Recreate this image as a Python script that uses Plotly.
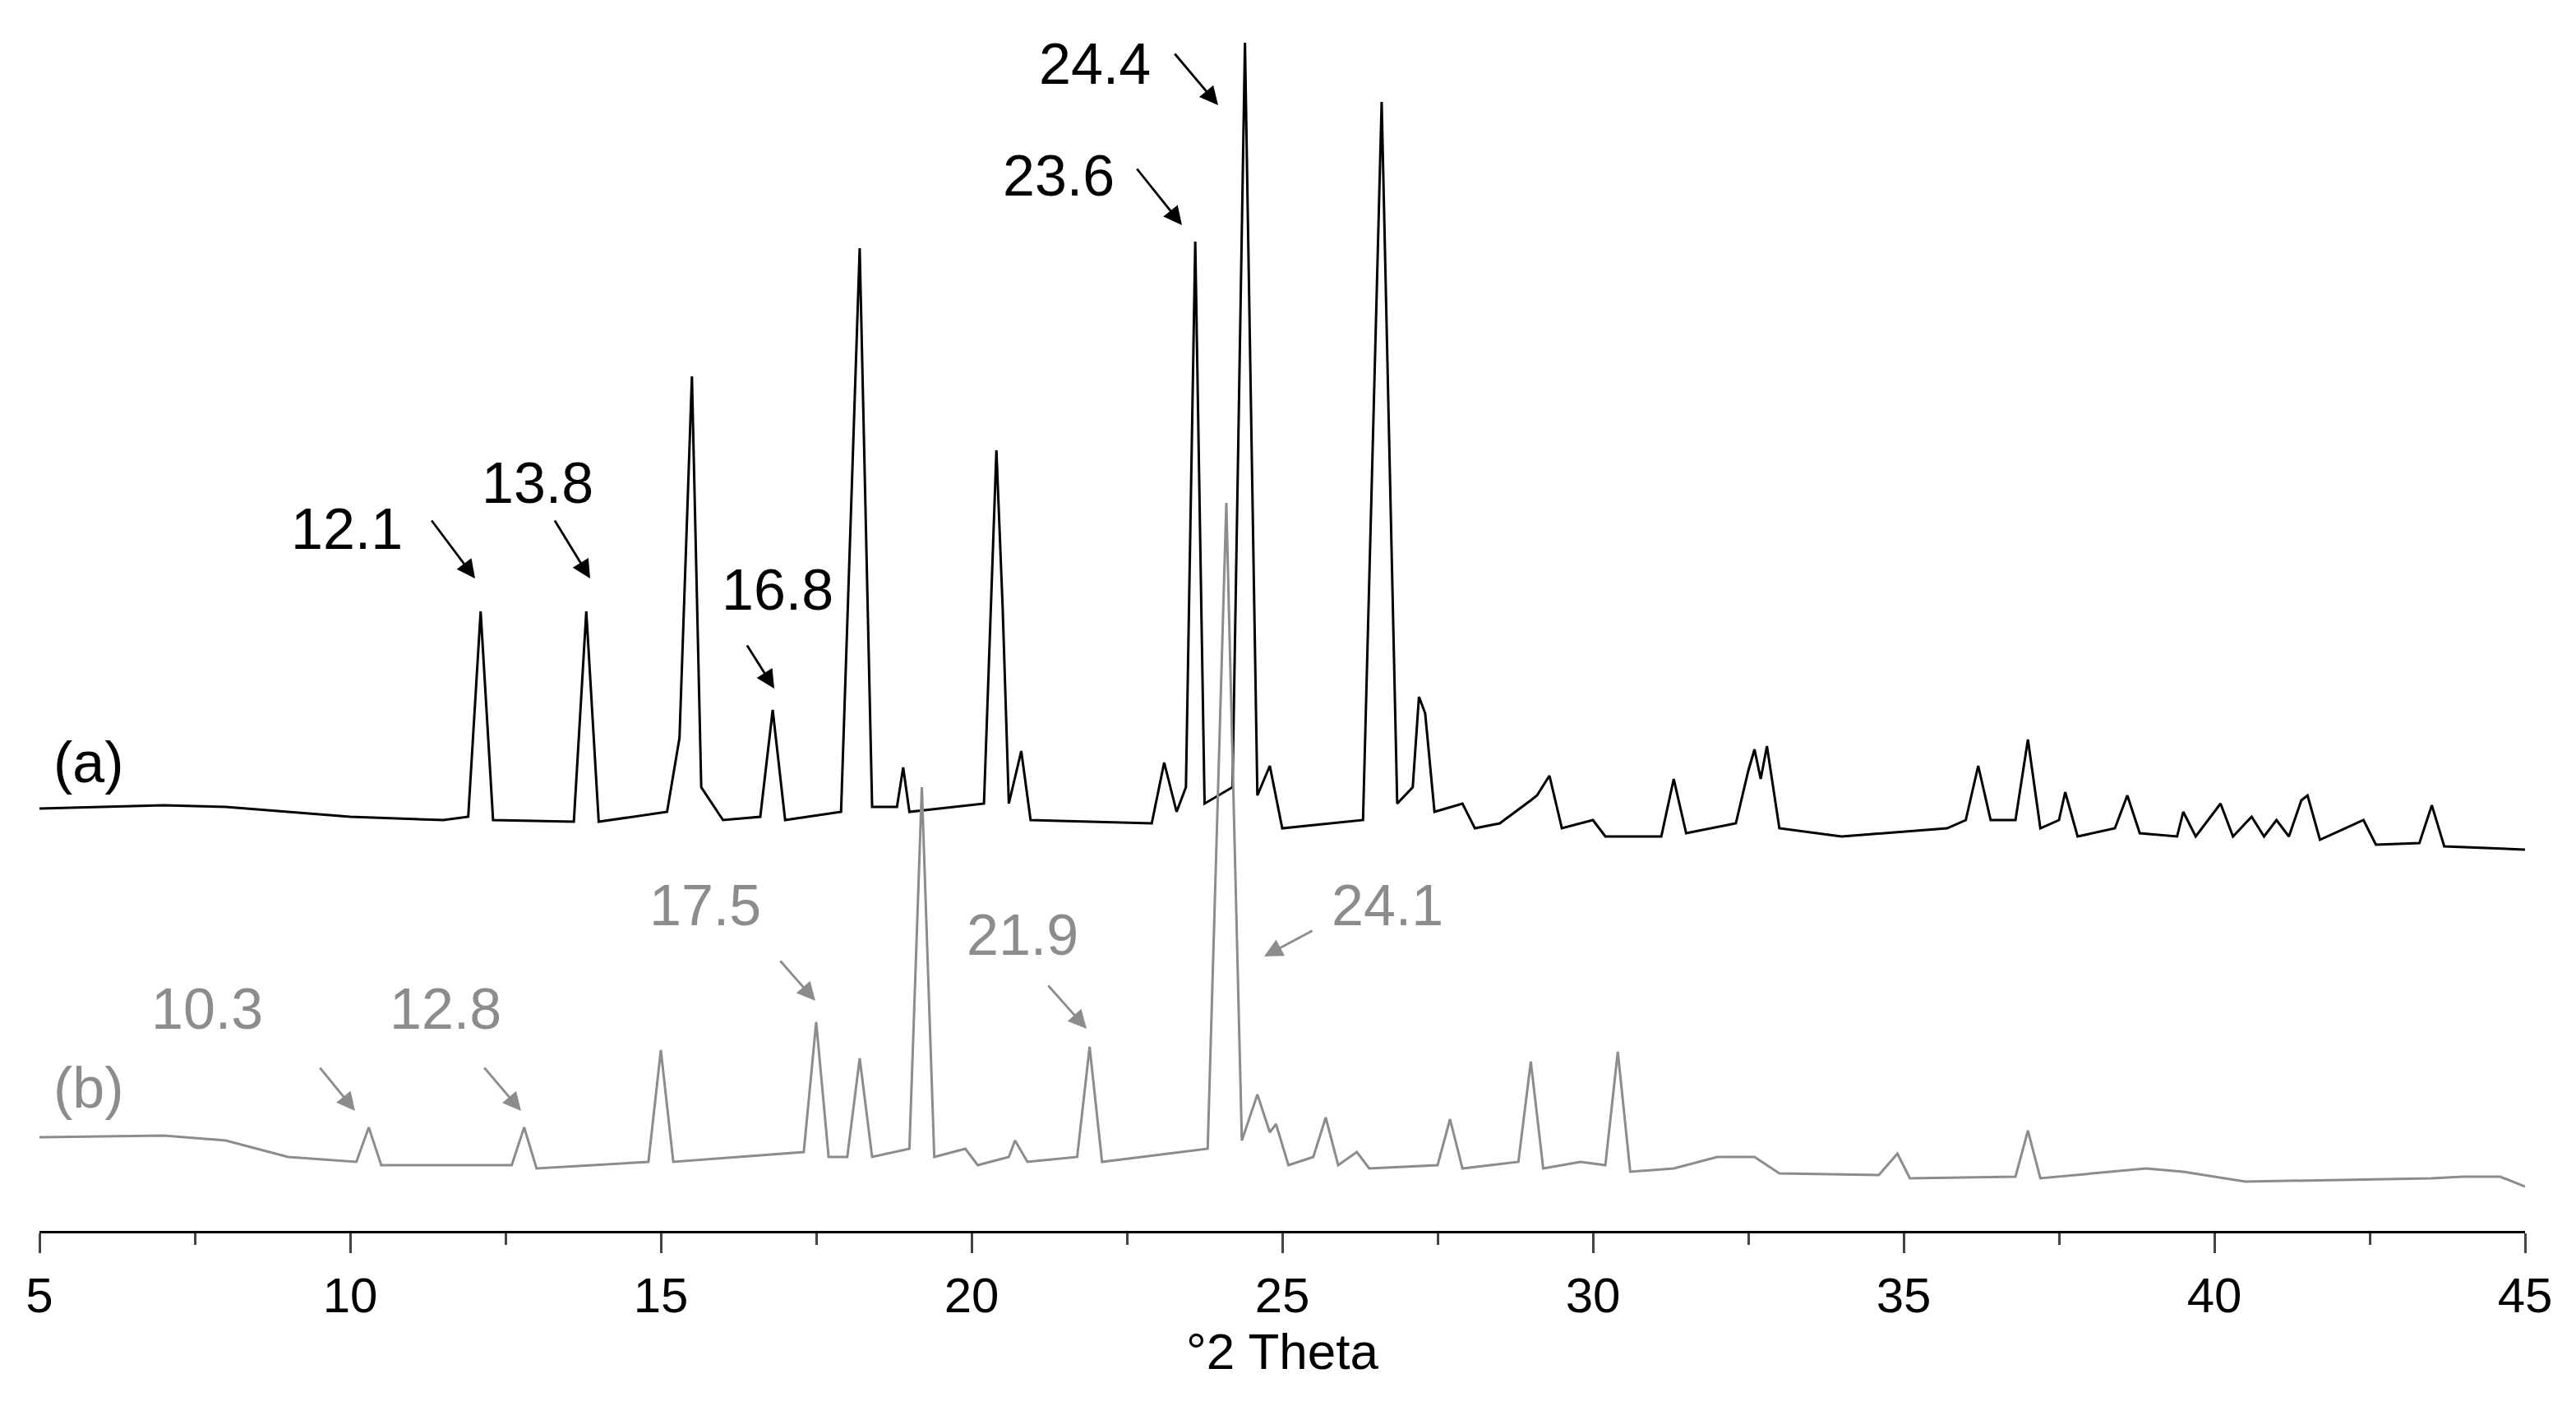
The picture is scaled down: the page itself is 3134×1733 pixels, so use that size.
import plotly.graph_objects as go

# Pattern (a): vertices (2θ, intensity in arbitrary units)
a_x = [5,7,8,10,11.5,11.9,12.1,12.3,13.6,13.8,14.0,15.1,15.3,15.5,15.65,16.0,16.6,16.8,17.0,17.9,18.2,18.4,18.8,18.9,19.0,20.2,20.4,20.5,20.6,20.8,20.95,22.9,23.1,23.3,23.45,23.6,23.75,24.2,24.4,24.6,24.8,25.0,26.3,26.6,26.85,27.1,27.2,27.3,27.45,27.9,28.1,28.5,29.0,29.1,29.3,29.5,30.0,30.2,31.1,31.3,31.5,31.9,32.3,32.5,32.6,32.7,32.8,33.0,34.0,35.7,36.0,36.2,36.4,36.8,37.0,37.2,37.5,37.6,37.8,38.4,38.6,38.8,39.4,39.5,39.7,40.1,40.3,40.6,40.8,41.0,41.2,41.4,41.5,41.7,42.4,42.6,43.3,43.5,43.7,45]
a_y = [257,259,258,252,250,252,377,250,249,377,249,255,300,520,270,250,252,317,250,255,598,258,258,282,255,260,475,380,260,292,250,248,285,255,270,602,260,270,723,265,283,245,250,687,260,270,325,315,255,260,245,248,262,265,277,245,250,240,240,275,242,245,248,280,293,275,295,245,240,245,250,283,250,250,299,245,250,267,240,245,265,242,240,255,240,260,240,252,240,250,240,262,265,238,250,235,236,259,234,232]
# Pattern (b)
b_x = [5,7,8,9,10.1,10.3,10.5,12.6,12.8,13.0,14.8,15.0,15.2,17.3,17.5,17.7,18.0,18.2,18.4,19.0,19.2,19.4,19.9,20.1,20.6,20.7,20.9,21.7,21.9,22.1,23.8,24.1,24.35,24.6,24.8,24.9,25.1,25.5,25.7,25.9,26.2,26.4,27.5,27.7,27.9,28.8,29.0,29.2,29.8,30.2,30.4,30.6,31.3,32.0,32.6,33.0,34.6,34.9,35.1,36.8,37.0,37.2,38.9,39.5,40.5,43.5,44.0,44.6,45]
b_y = [57,58,55,45,42,63,40,40,63,38,42,110,42,48,127,45,45,105,45,50,270,45,50,40,45,55,42,45,112,42,50,443,55,83,60,65,40,45,69,40,48,38,40,68,38,42,103,38,42,40,109,36,38,45,45,35,34,47,32,33,61,32,38,36,30,32,33,33,27]

a_labels = ["12.1","13.8","16.8","23.6","24.4"]
b_labels = ["10.3","12.8","17.5","21.9","24.1"]
x_ticks = [5,10,15,20,25,30,35,40,45]

# layout positions (half-scale pixel coords of reference)
a_pos = [((207,318),(258,312),(285,348)),((323,290),(333,312),(355,348)),((469,355),(450,388),(467,415)),
         ((640,103),(687,98),(715,133)),((662,35),(710,28),(737,60))]
b_pos = [((122,610),(190,645),(212,672)),((267,610),(290,645),(313,672)),((425,547),(470,580),(492,605)),
         ((618,565),(633,595),(657,622)),((840,547),(795,562),(765,578))]

def X(px): return 5 + (px - 20) / 37.8
def Y(py): return 745 - py

GRAY = "#8c8c8c"
fig = go.Figure()
fig.add_trace(go.Scatter(x=a_x, y=a_y, mode="lines", line=dict(color="black", width=3), showlegend=False))
fig.add_trace(go.Scatter(x=b_x, y=b_y, mode="lines", line=dict(color=GRAY, width=3), showlegend=False))

ann = []
for labels, pos, col in [(a_labels, a_pos, "black"), (b_labels, b_pos, GRAY)]:
    for t, (tp, tail, head) in zip(labels, pos):
        ann.append(dict(x=X(tp[0]), y=Y(tp[1]), text=t, showarrow=False, font=dict(size=70, color=col)))
        ann.append(dict(x=X(head[0]), y=Y(head[1]), ax=X(tail[0]), ay=Y(tail[1]), axref="x", ayref="y",
                        text="", showarrow=True, arrowhead=2, arrowsize=1.6, arrowwidth=2.8, arrowcolor=col))
ann.append(dict(x=X(50), y=Y(460), text="(a)", showarrow=False, font=dict(size=70, color="black")))
ann.append(dict(x=X(50), y=Y(658), text="(b)", showarrow=False, font=dict(size=70, color=GRAY)))

fig.update_layout(
    width=3134, height=1733, paper_bgcolor="white", plot_bgcolor="white",
    margin=dict(l=40, r=70, t=0, b=243),
    font=dict(family="Liberation Sans, Arial", color="black"),
    annotations=ann,
    xaxis=dict(range=[5, 45], tickvals=x_ticks, ticks="outside", ticklen=24, tickwidth=3,
               showline=True, linecolor="black", linewidth=3, showgrid=False, zeroline=False,
               tickfont=dict(size=60), title=dict(text="°2 Theta", font=dict(size=62), standoff=2),
               minor=dict(dtick=2.5, ticks="outside", ticklen=14, tickwidth=3)),
    yaxis=dict(range=[0, 745], visible=False, showgrid=False),
)
fig.write_html("out.html")
